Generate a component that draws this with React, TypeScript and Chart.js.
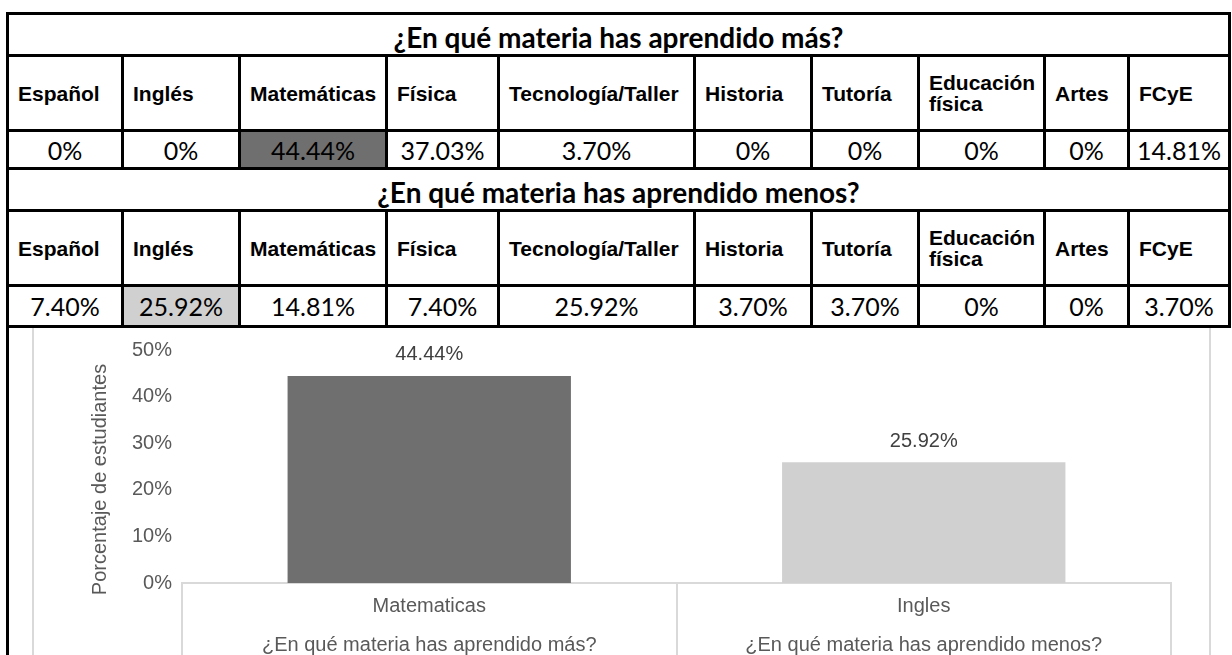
import React, { useEffect, useRef } from "react";
import { Chart, registerables } from "chart.js";

Chart.register(...registerables);

// ---------- data ----------
const subjects = [
  "Español",
  "Inglés",
  "Matemáticas",
  "Física",
  "Tecnología/Taller",
  "Historia",
  "Tutoría",
  "Educación física",
  "Artes",
  "FCyE",
];
const masTitle = "¿En qué materia has aprendido más?";
const menosTitle = "¿En qué materia has aprendido menos?";
const masValues = [0, 0, 44.44, 37.03, 3.7, 0, 0, 0, 0, 14.81];
const menosValues = [7.4, 25.92, 14.81, 7.4, 25.92, 3.7, 3.7, 0, 0, 3.7];
const masHighlight = 2;
const menosHighlight = 1;

const chartSubjects = ["Matematicas", "Ingles"];
const chartQuestions = [masTitle, menosTitle];
const chartValues = [0.4444, 0.2592];
const chartColors = ["#6f6f6f", "#d0d0d0"];
const yAxisTitle = "Porcentaje de estudiantes";
const yMin = 0;
const yMax = 0.5;
const yStep = 0.1;

// ---------- layout ----------
const colEdges = [7, 122, 239, 386, 498, 694, 811, 918, 1044, 1128, 1229];
const rowEdges = [13, 55, 130, 168, 210, 285, 326];
const LINE = 3;

const ARIAL = '"Liberation Sans", Arial, sans-serif';
const CALIBRI = 'Lato, "Open Sans", sans-serif';

const fmtPct = (v: number) => (v === 0 ? "0%" : v.toFixed(2) + "%");

function Cell(props: {
  x1: number;
  x2: number;
  y1: number;
  y2: number;
  bg?: string;
  children?: React.ReactNode;
  style?: React.CSSProperties;
}) {
  const { x1, x2, y1, y2, bg, children, style } = props;
  return (
    <div
      style={{
        position: "absolute",
        left: x1 - 1,
        top: y1 - 1,
        width: x2 - x1 + LINE,
        height: y2 - y1 + LINE,
        border: `${LINE}px solid #000`,
        boxSizing: "border-box",
        background: bg || "transparent",
        display: "flex",
        alignItems: "center",
        overflow: "hidden",
        color: "#000",
        whiteSpace: "normal",
        ...style,
      }}
    >
      {children}
    </div>
  );
}

function ChartBox() {
  const ref = useRef<HTMLCanvasElement | null>(null);
  useEffect(() => {
    if (!ref.current) return;
    const valueLabels = {
      id: "valueLabels",
      afterDatasetsDraw(chart: any) {
        const ctx = chart.ctx;
        const meta = chart.getDatasetMeta(0);
        ctx.save();
        ctx.font = `20px ${ARIAL}`;
        ctx.fillStyle = "#404040";
        ctx.textAlign = "center";
        ctx.textBaseline = "middle";
        meta.data.forEach((bar: any, i: number) => {
          const v = chart.data.datasets[0].data[i] as number;
          ctx.fillText((v * 100).toFixed(2) + "%", bar.x, bar.y - 21);
        });
        ctx.restore();
      },
    };
    const yTitle = {
      id: "yTitle",
      afterDraw(chart: any) {
        const ctx = chart.ctx;
        const area = chart.chartArea;
        ctx.save();
        ctx.font = `20px ${ARIAL}`;
        ctx.fillStyle = "#595959";
        ctx.textAlign = "center";
        ctx.textBaseline = "middle";
        ctx.translate(66, (area.top + area.bottom) / 2 + 13);
        ctx.rotate(-Math.PI / 2);
        ctx.fillText(yAxisTitle, 0, 0);
        ctx.restore();
      },
    };
    const chart = new Chart(ref.current, {
      type: "bar",
      data: {
        labels: chartSubjects.map((s, i) => [s, chartQuestions[i]]),
        datasets: [
          {
            data: chartValues,
            backgroundColor: chartColors,
            borderWidth: 0,
            categoryPercentage: 1,
            barPercentage: 0.573,
          },
        ],
      },
      options: {
        animation: false,
        responsive: false,
        maintainAspectRatio: false,
        devicePixelRatio: 1,
        layout: { padding: { top: 22, right: 38, left: 0, bottom: 0 } },
        plugins: {
          legend: { display: false },
          tooltip: { enabled: false },
          title: { display: false },
        },
        scales: {
          y: {
            min: yMin,
            max: yMax,
            ticks: {
              stepSize: yStep,
              padding: 10,
              color: "#595959",
              font: { family: ARIAL, size: 20 },
              callback: (v: any) => Math.round(Number(v) * 100) + "%",
            },
            grid: { display: false, drawTicks: false },
            border: { display: false },
            afterFit: (s: any) => {
              s.width = 148;
            },
          },
          x: {
            offset: true,
            grid: {
              display: true,
              offset: true,
              drawOnChartArea: false,
              drawTicks: true,
              tickLength: 120,
              color: "#d9d9d9",
              lineWidth: 2,
            },
            border: { display: true, color: "#d9d9d9", width: 2 },
            ticks: {
              padding: -116,
              color: "#595959",
              font: { family: ARIAL, size: 20, lineHeight: 1.95 },
              maxRotation: 0,
              autoSkip: false,
            },
            afterFit: (s: any) => {
              s.height = 141;
            },
          },
        },
      },
      plugins: [valueLabels, yTitle],
    });
    return () => chart.destroy();
  }, []);
  return (
    <div
      style={{
        position: "absolute",
        left: 32,
        top: 326,
        width: 1179,
        height: 400,
        border: "2px solid #d9d9d9",
        boxSizing: "border-box",
        background: "#fff",
      }}
    >
      <canvas ref={ref} width={1175} height={396} style={{ display: "block", width: 1175, height: 396 }} />
    </div>
  );
}

function TitleRow({ r, text }: { r: number; text: string }) {
  return (
    <Cell x1={colEdges[0]} x2={colEdges[colEdges.length - 1]} y1={rowEdges[r]} y2={rowEdges[r + 1]}
      style={{ justifyContent: "center", alignItems: "flex-end", paddingBottom: 1, fontFamily: CALIBRI, fontWeight: 700, fontSize: 28, lineHeight: "32px" }}>
      {text}
    </Cell>
  );
}

function HeaderRow({ r }: { r: number }) {
  return (
    <>
      {subjects.map((s, i) => (
        <Cell key={s} x1={colEdges[i]} x2={colEdges[i + 1]} y1={rowEdges[r]} y2={rowEdges[r + 1]}
          style={{ paddingLeft: 9, paddingRight: 2, fontFamily: ARIAL, fontWeight: 700, fontSize: 21, lineHeight: "21px" }}>
          <span>{s}</span>
        </Cell>
      ))}
    </>
  );
}

function ValueRow({ r, values, hi, hiColor }: { r: number; values: number[]; hi: number; hiColor: string }) {
  return (
    <>
      {values.map((v, i) => (
        <Cell key={i} x1={colEdges[i]} x2={colEdges[i + 1]} y1={rowEdges[r]} y2={rowEdges[r + 1]}
          bg={i === hi ? hiColor : undefined}
          style={{ justifyContent: "center", fontFamily: CALIBRI, fontSize: 25, lineHeight: "28px" }}>
          {fmtPct(v)}
        </Cell>
      ))}
    </>
  );
}

export default function App() {
  return (
    <div style={{ position: "absolute", left: 0, top: 0, width: 1232, height: 655, overflow: "hidden", background: "#fff" }}>
      <ChartBox />
      {/* left border continuing below the table */}
      <div style={{ position: "absolute", left: colEdges[0] - 1, top: rowEdges[0], width: LINE, height: 700, background: "#000" }} />
      <TitleRow r={0} text={masTitle} />
      <HeaderRow r={1} />
      <ValueRow r={2} values={masValues} hi={masHighlight} hiColor="#6f6f6f" />
      <TitleRow r={3} text={menosTitle} />
      <HeaderRow r={4} />
      <ValueRow r={5} values={menosValues} hi={menosHighlight} hiColor="#d0d0d0" />
    </div>
  );
}
